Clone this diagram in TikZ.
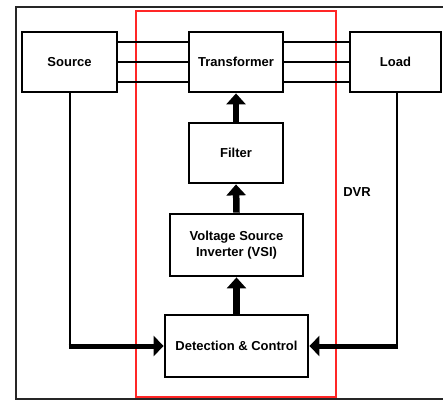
\documentclass[tikz,border=0pt]{standalone}
\usepackage{fontspec}
\setmainfont{Liberation Sans}
\usetikzlibrary{arrows.meta}
\begin{document}
\begin{tikzpicture}[x=1pt,y=-1pt,
  blk/.style={draw, line width=2.8pt, minimum width=#1, align=center,
    font=\fontsize{13}{15.5}\selectfont\bfseries, inner sep=0pt},
  wire/.style={line width=2pt},
  vup/.style={line width=6.5pt, -{Triangle[width=19pt,length=11pt]}},
  hin/.style={line width=5pt, -{Triangle[width=20pt,length=10pt]}}
]
\useasboundingbox (0,0) rectangle (443,401);
\fill[white] (0,0) rectangle (443,401);
% outer frame
\draw[line width=1.5pt, black!85] (16,7) rectangle (470,399);
% DVR box
\draw[line width=1.4pt, red!85] (136,11) rectangle (336,397);
% blocks
\node[blk=95pt, minimum height=60pt] (src) at (69.5,62) {Source};
\node[blk=94pt, minimum height=60pt] (tr) at (236,62) {Transformer};
\node[blk=91pt, minimum height=60pt] (load) at (395.5,62) {Load};
\node[blk=94pt, minimum height=60pt] (filt) at (236,153) {Filter};
\node[blk=133pt, minimum height=62pt] (vsi) at (236.5,245) {Voltage Source\\Inverter (VSI)};
\node[blk=143pt, minimum height=62pt] (dc) at (236.5,346) {Detection \& Control};
\node[font=\fontsize{13}{15.5}\selectfont\bfseries] (dvr) at (357,192) {DVR};
% three-phase lines
\foreach \s in {20,0,-20}{
  \draw[wire] ([yshift=\s pt]src.east) -- ([yshift=\s pt]tr.west);
  \draw[wire] ([yshift=\s pt]tr.east) -- ([yshift=\s pt]load.west);
}
% vertical arrows
\draw[vup] (dc.north) -- (vsi.south);
\draw[vup] (vsi.north) -- (filt.south);
\draw[vup] (filt.north) -- (tr.south);
% measurement paths
\coordinate (c1) at (src.south |- dc.west);
\coordinate (c2) at (397,0 |- dc.west);
\draw[wire] (src.south) -- (c1);
\draw[wire] (load.south -| c2) -- (c2);
\draw[hin] ([xshift=-1pt]c1) -- (dc.west);
\draw[hin] ([xshift=1pt]c2) -- (dc.east);
\end{tikzpicture}
\end{document}
